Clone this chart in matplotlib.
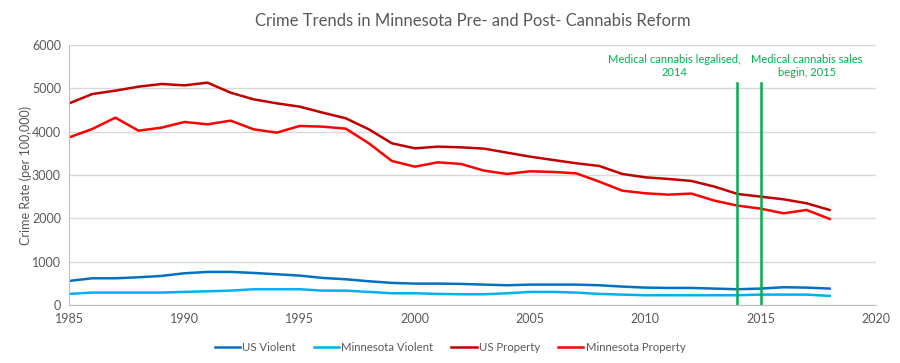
import matplotlib
matplotlib.use('Agg')
from matplotlib import pyplot as plt

years = list(range(1985, 2019))

us_violent = [554, 615, 615, 638, 669, 731, 762, 762, 738, 708, 677, 623, 592, 546, 508, 492, 492,
	485, 469, 454, 469, 469, 469, 454, 423, 400, 392, 392, 377, 362, 377, 408, 400, 377]
mn_violent = [254, 285, 285, 285, 285, 300, 315, 330, 362, 362, 362, 330, 330, 300, 269, 269, 254,
	246, 246, 269, 300, 300, 285, 254, 238, 223, 223, 223, 223, 223, 238, 238, 238, 208]
us_property = [4654, 4869, 4946, 5038, 5100, 5069, 5131, 4900, 4746, 4654, 4577, 4438, 4308, 4054, 3731, 3615, 3654,
	3638, 3608, 3515, 3423, 3346, 3270, 3208, 3023, 2946, 2908, 2862, 2731, 2562, 2500, 2438, 2346, 2192]
mn_property = [3869, 4062, 4323, 4023, 4092, 4223, 4169, 4254, 4054, 3977, 4131, 4115, 4069, 3731, 3323, 3192, 3292,
	3254, 3100, 3023, 3085, 3069, 3038, 2846, 2638, 2577, 2546, 2570, 2408, 2292, 2223, 2115, 2192, 1985]

events = [2014, 2015]
event_labels = ['Medical cannabis legalised,\n2014', 'Medical cannabis sales\nbegin, 2015']
label_x = [2011.27, 2017.0]

plt.rcParams['font.family'] = ['Lato', 'DejaVu Sans']

fig = plt.figure(figsize=(9, 3.63), dpi=100)
ax = fig.add_axes([0.077, 0.16, 0.896, 0.716])

ax.plot(years, us_violent, color='#0070C0', lw=1.8, label='US Violent')
ax.plot(years, mn_violent, color='#00B0F0', lw=1.8, label='Minnesota Violent')
ax.plot(years, us_property, color='#C00000', lw=1.8, label='US Property')
ax.plot(years, mn_property, color='#FF0000', lw=1.8, label='Minnesota Property')

# green markers for cannabis reform years
for yr in events:
	ax.plot([yr, yr], [0, 5130], color='#00B050', lw=1.8)
for x, txt in zip(label_x, event_labels):
	ax.text(x, 5790, txt, color='#00B050', ha='center', va='top', fontsize=8, linespacing=1.25)

ax.set_xlim(1985, 2020)
ax.set_ylim(0, 6000)
ax.set_xticks(range(1985, 2021, 5))
ax.set_yticks(range(0, 6001, 1000))
ax.grid(axis='y', color='#D9D9D9', lw=1)
ax.set_axisbelow(True)
for s in ['top', 'right']:
	ax.spines[s].set_visible(False)
for s in ['left', 'bottom']:
	ax.spines[s].set_color('#BFBFBF')
ax.tick_params(colors='#595959', labelsize=9, length=0, pad=6)

ax.set_ylabel('Crime Rate (per 100,000)', color='#595959', fontsize=9, labelpad=0)
ax.set_title('Crime Trends in Minnesota Pre- and Post- Cannabis Reform', color='#595959', fontsize=12, pad=14)

leg = fig.legend(loc='lower center', ncol=4, frameon=False, fontsize=8.2, bbox_to_anchor=(0.5, 0.0),
	handlelength=2.2, handletextpad=0.2, columnspacing=1.6)
for t in leg.get_texts():
	t.set_color('#595959')

fig.savefig('out.png', dpi=100)
